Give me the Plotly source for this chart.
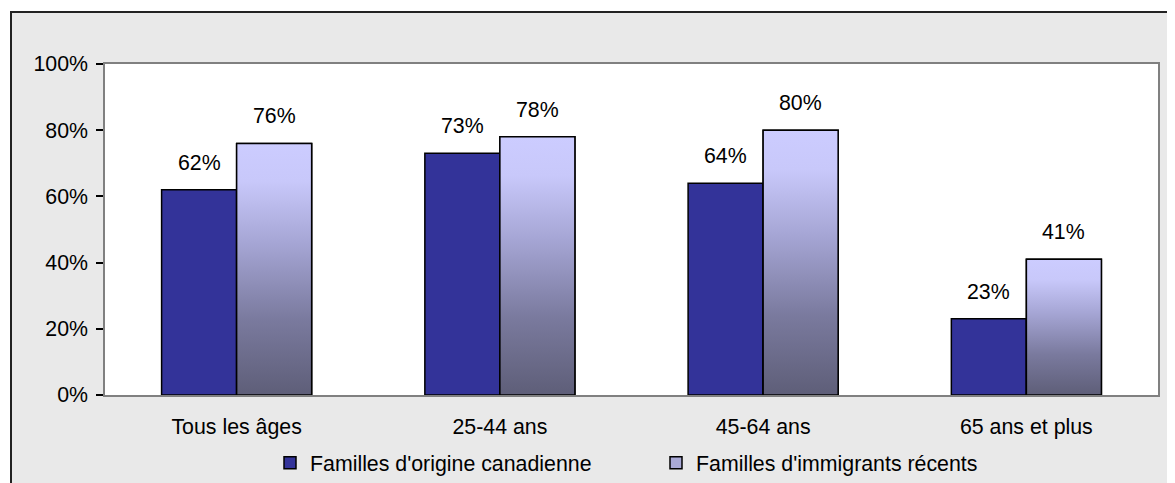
import plotly.graph_objects as go

categories = ["Tous les âges", "25-44 ans", "45-64 ans", "65 ans et plus"]
series_names = ["Familles d'origine canadienne", "Familles d'immigrants récents"]
canadian = [62, 73, 64, 23]
immigrants = [76, 78, 80, 41]
y_ticks = [0, 20, 40, 60, 80, 100]
y_tick_labels = [f"{v}%" for v in y_ticks]

# The page body has an 8px margin; build the figure in page coordinates minus that.
OFF = 8
W, H = 1175 - OFF, 483 - OFF
PL, PR, PT, PB = 105, 1158, 64, 395   # plot area edges in page pixels
ML, MR, MT, MB = PL - OFF, 1175 - PR, PT - OFF, 483 - PB
PW, PH = PR - PL, PB - PT
FONT = dict(family="Liberation Sans, Arial, sans-serif", size=21.33, color="black")
BW = 0.285  # bar width in category units


def px_x(px):
    return (px - PL) / PW


def px_y(py):
    return (PB - py) / PH


xs = list(range(len(categories)))

fig = go.Figure()
fig.add_trace(go.Bar(
    x=xs, y=canadian, name=series_names[0], width=BW, offset=-BW,
    marker=dict(color="#333399", line=dict(color="black", width=1.5)),
    hoverinfo="skip",
))
fig.add_trace(go.Bar(
    x=xs, y=immigrants, name=series_names[1], width=BW, offset=0,
    marker=dict(color="#a9a9d6", line=dict(color="black", width=1.5)),
    hoverinfo="skip",
))

grad = [[0, "rgb(94,94,120)"], [0.3, "rgb(122,122,158)"], [0.6, "rgb(165,165,212)"],
        [0.85, "rgb(200,200,250)"], [1, "rgb(204,204,255)"]]
for i, v in zip(xs, immigrants):
    fig.add_trace(go.Scatter(
        x=[i, i + BW, i + BW, i, i], y=[0, 0, v, v, 0],
        mode="lines", fill="toself",
        fillgradient=dict(type="vertical", colorscale=grad, start=0, stop=v),
        line=dict(color="black", width=1.5),
        showlegend=False, hoverinfo="skip",
    ))

annotations = []
for i, v in zip(xs, canadian):
    annotations.append(dict(x=i - BW / 2, y=v, text=f"{v}%", showarrow=False,
                            yanchor="bottom", yshift=13, font=FONT))
for i, v in zip(xs, immigrants):
    annotations.append(dict(x=i + BW / 2, y=v, text=f"{v}%", showarrow=False,
                            yanchor="bottom", yshift=13, font=FONT))

shapes = [
    dict(type="rect", xref="paper", yref="paper", layer="below",
         x0=px_x(-20), x1=px_x(1200), y0=px_y(11), y1=px_y(-20),
         fillcolor="white", line=dict(width=0)),
    dict(type="rect", xref="paper", yref="paper", layer="below",
         x0=px_x(-20), x1=px_x(10), y0=px_y(520), y1=px_y(-20),
         fillcolor="white", line=dict(width=0)),
    dict(type="rect", xref="paper", yref="paper", layer="below",
         x0=px_x(11), x1=px_x(1200), y0=px_y(520), y1=px_y(12),
         fillcolor="rgba(0,0,0,0)", line=dict(color="#222222", width=2)),
]

fig.update_layout(
    width=W, height=H,
    margin=dict(l=ML, r=MR, t=MT, b=MB, autoexpand=False),
    paper_bgcolor="#e9e9e9", plot_bgcolor="white",
    font=FONT,
    barmode="overlay",
    showlegend=True,
    legend=dict(orientation="h", x=px_x(270), xanchor="left",
                y=px_y(463), yanchor="middle",
                entrywidth=341, entrywidthmode="pixels",
                bgcolor="rgba(0,0,0,0)", font=FONT, traceorder="normal"),
    xaxis=dict(range=[-0.5, len(categories) - 0.5], tickvals=xs, ticktext=categories,
               showgrid=False, zeroline=False, showline=True, linecolor="#808080",
               linewidth=1.5, mirror=True, ticks="", ticklabelstandoff=12,
               tickfont=FONT, fixedrange=True),
    yaxis=dict(range=[0, 100], tickvals=y_ticks, ticktext=y_tick_labels,
               showgrid=False, zeroline=False, showline=True, linecolor="#808080",
               linewidth=1.5, mirror=True, ticks="outside", ticklen=7,
               tickcolor="black", tickwidth=1.5, ticklabelstandoff=4,
               tickfont=FONT, fixedrange=True),
    annotations=annotations,
    shapes=shapes,
)

fig.write_html("out.html")
